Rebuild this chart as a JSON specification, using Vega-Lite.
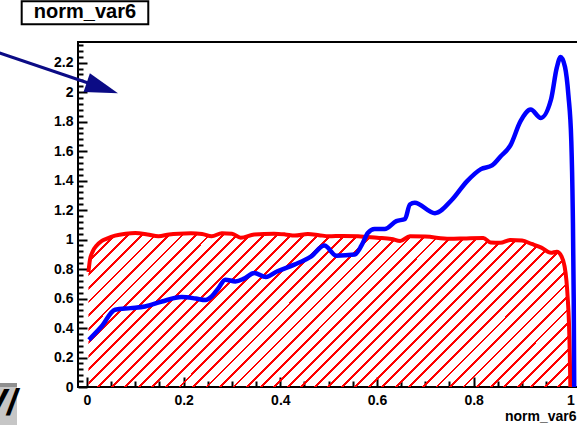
{
  "$schema": "https://vega.github.io/schema/vega-lite/v6.json",
  "width": 502,
  "height": 345,
  "autosize": {"type": "none"},
  "padding": {"left": 78, "top": 42, "right": 0, "bottom": 38},
  "background": "white",
  "config": {
    "view": {"stroke": "black", "strokeWidth": 2},
    "axis": {
      "domainColor": "black",
      "domainWidth": 2,
      "ticks": true,
      "tickColor": "#000000",
      "tickOpacity": 1,
      "tickWidth": 2,
      "labelFont": "Liberation Sans",
      "labelFontSize": 14,
      "labelFontWeight": "bold",
      "labelColor": "black",
      "grid": false,
      "zindex": 2,
      "titleFont": "Liberation Sans",
      "titleFontSize": 14,
      "titleFontWeight": "bold",
      "titleColor": "black"
    }
  },
  "resolve": {"scale": {"x": "independent", "y": "independent"}, "axis": {"x": "independent", "y": "independent"}},
  "datasets": {
    "sig": [
      {"x": 0.003, "y": 0.78}, {"x": 0.006, "y": 0.86}, {"x": 0.012, "y": 0.92}, {"x": 0.02, "y": 0.96},
      {"x": 0.03, "y": 0.99}, {"x": 0.04, "y": 1.005}, {"x": 0.058, "y": 1.027}, {"x": 0.08, "y": 1.04},
      {"x": 0.1, "y": 1.045}, {"x": 0.125, "y": 1.035}, {"x": 0.148, "y": 1.022}, {"x": 0.17, "y": 1.035},
      {"x": 0.19, "y": 1.04}, {"x": 0.215, "y": 1.042}, {"x": 0.238, "y": 1.038}, {"x": 0.258, "y": 1.022},
      {"x": 0.279, "y": 1.043}, {"x": 0.3, "y": 1.04}, {"x": 0.318, "y": 1.012}, {"x": 0.346, "y": 1.034},
      {"x": 0.387, "y": 1.04}, {"x": 0.41, "y": 1.035}, {"x": 0.43, "y": 1.027}, {"x": 0.457, "y": 1.038},
      {"x": 0.48, "y": 1.03}, {"x": 0.5, "y": 1.022}, {"x": 0.53, "y": 1.025}, {"x": 0.561, "y": 1.022},
      {"x": 0.6, "y": 1.012}, {"x": 0.63, "y": 1.004}, {"x": 0.648, "y": 0.99}, {"x": 0.668, "y": 1.022},
      {"x": 0.7, "y": 1.02}, {"x": 0.75, "y": 1.005}, {"x": 0.785, "y": 1.008}, {"x": 0.82, "y": 1.01},
      {"x": 0.835, "y": 0.98}, {"x": 0.855, "y": 0.978}, {"x": 0.876, "y": 0.997}, {"x": 0.9, "y": 0.993},
      {"x": 0.92, "y": 0.97}, {"x": 0.94, "y": 0.945}, {"x": 0.96, "y": 0.91}, {"x": 0.972, "y": 0.918},
      {"x": 0.982, "y": 0.885}, {"x": 0.988, "y": 0.82}, {"x": 0.992, "y": 0.72}, {"x": 0.995, "y": 0.58},
      {"x": 0.997, "y": 0.45}, {"x": 0.999, "y": 0.2}, {"x": 1.0, "y": 0.0}
    ],
    "bkg": [
      {"x": 0.004, "y": 0.32}, {"x": 0.03, "y": 0.41}, {"x": 0.058, "y": 0.524}, {"x": 0.09, "y": 0.535},
      {"x": 0.12, "y": 0.546}, {"x": 0.155, "y": 0.58}, {"x": 0.196, "y": 0.61}, {"x": 0.225, "y": 0.6},
      {"x": 0.245, "y": 0.59}, {"x": 0.258, "y": 0.614}, {"x": 0.272, "y": 0.67}, {"x": 0.286, "y": 0.728},
      {"x": 0.307, "y": 0.716}, {"x": 0.325, "y": 0.735}, {"x": 0.346, "y": 0.773}, {"x": 0.37, "y": 0.746},
      {"x": 0.394, "y": 0.785}, {"x": 0.429, "y": 0.83}, {"x": 0.464, "y": 0.886}, {"x": 0.491, "y": 0.959},
      {"x": 0.516, "y": 0.891}, {"x": 0.554, "y": 0.898}, {"x": 0.568, "y": 0.96}, {"x": 0.581, "y": 1.045},
      {"x": 0.595, "y": 1.072}, {"x": 0.616, "y": 1.072}, {"x": 0.64, "y": 1.125}, {"x": 0.658, "y": 1.14},
      {"x": 0.668, "y": 1.238}, {"x": 0.678, "y": 1.25}, {"x": 0.72, "y": 1.179}, {"x": 0.755, "y": 1.27},
      {"x": 0.786, "y": 1.395}, {"x": 0.815, "y": 1.478}, {"x": 0.838, "y": 1.503}, {"x": 0.856, "y": 1.565},
      {"x": 0.876, "y": 1.639}, {"x": 0.897, "y": 1.803}, {"x": 0.918, "y": 1.882}, {"x": 0.939, "y": 1.825},
      {"x": 0.96, "y": 1.95}, {"x": 0.972, "y": 2.166}, {"x": 0.98, "y": 2.238}, {"x": 0.989, "y": 2.17},
      {"x": 0.996, "y": 1.98}, {"x": 1.002, "y": 1.667}, {"x": 1.005, "y": 1.2}, {"x": 1.007, "y": 0.6},
      {"x": 1.008, "y": 0.0}
    ],
    "arrow": [
      {"x": -0.2, "y": 2.287}, {"x": 0.004, "y": 2.06}
    ],
    "head": [
      {"x": 0.0641, "y": 1.993}
    ],
    "titlebox": [
      {"x": -0.1351, "x2": 0.1268, "y": 2.461, "y2": 2.617, "xc": -0.0042, "yt": 2.505, "label": "norm_var6"}
    ],
    "logo": [
      {"part": "band", "x": -0.19, "x2": -0.1448, "y": 0.027, "y2": 0.0},
      {"part": "body", "x": -0.19, "x2": -0.1448, "y": 0.0, "y2": -0.27}
    ],
    "logotext": [
      {"x": -0.1448, "y": -0.19, "label": "V/"}
    ]
  },
  "layer": [
    {
      "data": {"name": "sig"},
      "mark": {
        "type": "area",
        "interpolate": "monotone",
        "fill": {
          "gradient": "linear",
          "x1": 0, "y1": 0, "x2": 1.1973, "y2": 0.3825,
          "stops": [
            {"offset": 0, "color": "#ff0000"}, {"offset": 0.0045, "color": "#ff0000"}, {"offset": 0.0045, "color": "transparent"}, {"offset": 0.02128, "color": "transparent"},
            {"offset": 0.02128, "color": "#ff0000"}, {"offset": 0.02578, "color": "#ff0000"}, {"offset": 0.02578, "color": "transparent"}, {"offset": 0.04255, "color": "transparent"},
            {"offset": 0.04255, "color": "#ff0000"}, {"offset": 0.04705, "color": "#ff0000"}, {"offset": 0.04705, "color": "transparent"}, {"offset": 0.06383, "color": "transparent"},
            {"offset": 0.06383, "color": "#ff0000"}, {"offset": 0.06833, "color": "#ff0000"}, {"offset": 0.06833, "color": "transparent"}, {"offset": 0.08511, "color": "transparent"},
            {"offset": 0.08511, "color": "#ff0000"}, {"offset": 0.08961, "color": "#ff0000"}, {"offset": 0.08961, "color": "transparent"}, {"offset": 0.10638, "color": "transparent"},
            {"offset": 0.10638, "color": "#ff0000"}, {"offset": 0.11088, "color": "#ff0000"}, {"offset": 0.11088, "color": "transparent"}, {"offset": 0.12766, "color": "transparent"},
            {"offset": 0.12766, "color": "#ff0000"}, {"offset": 0.13216, "color": "#ff0000"}, {"offset": 0.13216, "color": "transparent"}, {"offset": 0.14894, "color": "transparent"},
            {"offset": 0.14894, "color": "#ff0000"}, {"offset": 0.15344, "color": "#ff0000"}, {"offset": 0.15344, "color": "transparent"}, {"offset": 0.17021, "color": "transparent"},
            {"offset": 0.17021, "color": "#ff0000"}, {"offset": 0.17471, "color": "#ff0000"}, {"offset": 0.17471, "color": "transparent"}, {"offset": 0.19149, "color": "transparent"},
            {"offset": 0.19149, "color": "#ff0000"}, {"offset": 0.19599, "color": "#ff0000"}, {"offset": 0.19599, "color": "transparent"}, {"offset": 0.21277, "color": "transparent"},
            {"offset": 0.21277, "color": "#ff0000"}, {"offset": 0.21727, "color": "#ff0000"}, {"offset": 0.21727, "color": "transparent"}, {"offset": 0.23404, "color": "transparent"},
            {"offset": 0.23404, "color": "#ff0000"}, {"offset": 0.23854, "color": "#ff0000"}, {"offset": 0.23854, "color": "transparent"}, {"offset": 0.25532, "color": "transparent"},
            {"offset": 0.25532, "color": "#ff0000"}, {"offset": 0.25982, "color": "#ff0000"}, {"offset": 0.25982, "color": "transparent"}, {"offset": 0.2766, "color": "transparent"},
            {"offset": 0.2766, "color": "#ff0000"}, {"offset": 0.2811, "color": "#ff0000"}, {"offset": 0.2811, "color": "transparent"}, {"offset": 0.29787, "color": "transparent"},
            {"offset": 0.29787, "color": "#ff0000"}, {"offset": 0.30237, "color": "#ff0000"}, {"offset": 0.30237, "color": "transparent"}, {"offset": 0.31915, "color": "transparent"},
            {"offset": 0.31915, "color": "#ff0000"}, {"offset": 0.32365, "color": "#ff0000"}, {"offset": 0.32365, "color": "transparent"}, {"offset": 0.34043, "color": "transparent"},
            {"offset": 0.34043, "color": "#ff0000"}, {"offset": 0.34493, "color": "#ff0000"}, {"offset": 0.34493, "color": "transparent"}, {"offset": 0.3617, "color": "transparent"},
            {"offset": 0.3617, "color": "#ff0000"}, {"offset": 0.3662, "color": "#ff0000"}, {"offset": 0.3662, "color": "transparent"}, {"offset": 0.38298, "color": "transparent"},
            {"offset": 0.38298, "color": "#ff0000"}, {"offset": 0.38748, "color": "#ff0000"}, {"offset": 0.38748, "color": "transparent"}, {"offset": 0.40426, "color": "transparent"},
            {"offset": 0.40426, "color": "#ff0000"}, {"offset": 0.40876, "color": "#ff0000"}, {"offset": 0.40876, "color": "transparent"}, {"offset": 0.42553, "color": "transparent"},
            {"offset": 0.42553, "color": "#ff0000"}, {"offset": 0.43003, "color": "#ff0000"}, {"offset": 0.43003, "color": "transparent"}, {"offset": 0.44681, "color": "transparent"},
            {"offset": 0.44681, "color": "#ff0000"}, {"offset": 0.45131, "color": "#ff0000"}, {"offset": 0.45131, "color": "transparent"}, {"offset": 0.46809, "color": "transparent"},
            {"offset": 0.46809, "color": "#ff0000"}, {"offset": 0.47259, "color": "#ff0000"}, {"offset": 0.47259, "color": "transparent"}, {"offset": 0.48936, "color": "transparent"},
            {"offset": 0.48936, "color": "#ff0000"}, {"offset": 0.49386, "color": "#ff0000"}, {"offset": 0.49386, "color": "transparent"}, {"offset": 0.51064, "color": "transparent"},
            {"offset": 0.51064, "color": "#ff0000"}, {"offset": 0.51514, "color": "#ff0000"}, {"offset": 0.51514, "color": "transparent"}, {"offset": 0.53191, "color": "transparent"},
            {"offset": 0.53191, "color": "#ff0000"}, {"offset": 0.53641, "color": "#ff0000"}, {"offset": 0.53641, "color": "transparent"}, {"offset": 0.55319, "color": "transparent"},
            {"offset": 0.55319, "color": "#ff0000"}, {"offset": 0.55769, "color": "#ff0000"}, {"offset": 0.55769, "color": "transparent"}, {"offset": 0.57447, "color": "transparent"},
            {"offset": 0.57447, "color": "#ff0000"}, {"offset": 0.57897, "color": "#ff0000"}, {"offset": 0.57897, "color": "transparent"}, {"offset": 0.59574, "color": "transparent"},
            {"offset": 0.59574, "color": "#ff0000"}, {"offset": 0.60024, "color": "#ff0000"}, {"offset": 0.60024, "color": "transparent"}, {"offset": 0.61702, "color": "transparent"},
            {"offset": 0.61702, "color": "#ff0000"}, {"offset": 0.62152, "color": "#ff0000"}, {"offset": 0.62152, "color": "transparent"}, {"offset": 0.6383, "color": "transparent"},
            {"offset": 0.6383, "color": "#ff0000"}, {"offset": 0.6428, "color": "#ff0000"}, {"offset": 0.6428, "color": "transparent"}, {"offset": 0.65957, "color": "transparent"},
            {"offset": 0.65957, "color": "#ff0000"}, {"offset": 0.66407, "color": "#ff0000"}, {"offset": 0.66407, "color": "transparent"}, {"offset": 0.68085, "color": "transparent"},
            {"offset": 0.68085, "color": "#ff0000"}, {"offset": 0.68535, "color": "#ff0000"}, {"offset": 0.68535, "color": "transparent"}, {"offset": 0.70213, "color": "transparent"},
            {"offset": 0.70213, "color": "#ff0000"}, {"offset": 0.70663, "color": "#ff0000"}, {"offset": 0.70663, "color": "transparent"}, {"offset": 0.7234, "color": "transparent"},
            {"offset": 0.7234, "color": "#ff0000"}, {"offset": 0.7279, "color": "#ff0000"}, {"offset": 0.7279, "color": "transparent"}, {"offset": 0.74468, "color": "transparent"},
            {"offset": 0.74468, "color": "#ff0000"}, {"offset": 0.74918, "color": "#ff0000"}, {"offset": 0.74918, "color": "transparent"}, {"offset": 0.76596, "color": "transparent"},
            {"offset": 0.76596, "color": "#ff0000"}, {"offset": 0.77046, "color": "#ff0000"}, {"offset": 0.77046, "color": "transparent"}, {"offset": 0.78723, "color": "transparent"},
            {"offset": 0.78723, "color": "#ff0000"}, {"offset": 0.79173, "color": "#ff0000"}, {"offset": 0.79173, "color": "transparent"}, {"offset": 0.80851, "color": "transparent"},
            {"offset": 0.80851, "color": "#ff0000"}, {"offset": 0.81301, "color": "#ff0000"}, {"offset": 0.81301, "color": "transparent"}, {"offset": 0.82979, "color": "transparent"},
            {"offset": 0.82979, "color": "#ff0000"}, {"offset": 0.83429, "color": "#ff0000"}, {"offset": 0.83429, "color": "transparent"}, {"offset": 0.85106, "color": "transparent"},
            {"offset": 0.85106, "color": "#ff0000"}, {"offset": 0.85556, "color": "#ff0000"}, {"offset": 0.85556, "color": "transparent"}, {"offset": 0.87234, "color": "transparent"},
            {"offset": 0.87234, "color": "#ff0000"}, {"offset": 0.87684, "color": "#ff0000"}, {"offset": 0.87684, "color": "transparent"}, {"offset": 0.89362, "color": "transparent"},
            {"offset": 0.89362, "color": "#ff0000"}, {"offset": 0.89812, "color": "#ff0000"}, {"offset": 0.89812, "color": "transparent"}, {"offset": 0.91489, "color": "transparent"},
            {"offset": 0.91489, "color": "#ff0000"}, {"offset": 0.91939, "color": "#ff0000"}, {"offset": 0.91939, "color": "transparent"}, {"offset": 0.93617, "color": "transparent"},
            {"offset": 0.93617, "color": "#ff0000"}, {"offset": 0.94067, "color": "#ff0000"}, {"offset": 0.94067, "color": "transparent"}, {"offset": 0.95745, "color": "transparent"},
            {"offset": 0.95745, "color": "#ff0000"}, {"offset": 0.96195, "color": "#ff0000"}, {"offset": 0.96195, "color": "transparent"}, {"offset": 0.97872, "color": "transparent"},
            {"offset": 0.97872, "color": "#ff0000"}, {"offset": 0.98322, "color": "#ff0000"}, {"offset": 0.98322, "color": "transparent"}, {"offset": 1, "color": "transparent"}
          ]
        }
      },
      "encoding": {
        "x": {
          "field": "x", "type": "quantitative",
          "scale": {"domain": [-0.0186, 1.02], "nice": false, "zero": false},
          "axis": {
            "orient": "bottom",
            "title": "norm_var6",
            "titleAlign": "right",
            "titleBaseline": "alphabetic",
            "titleX": 498,
            "titleY": 43,
            "values": [0, 0.2, 0.4, 0.6, 0.8, 1],
            "format": "~g",
            "domain": false,
            "ticks": true,
            "tickColor": "#000000",
            "tickWidth": 2,
            "offset": -10,
            "tickSize": 10,
            "labelPadding": 6,
            "labelFlush": false,
            "labelOverlap": false
          }
        },
        "y": {
          "field": "y", "type": "quantitative",
          "scale": {"domain": [0, 2.34], "nice": false, "zero": false},
          "axis": {
            "orient": "left",
            "title": null,
            "values": [0, 0.2, 0.4, 0.6, 0.8, 1, 1.2, 1.4, 1.6, 1.8, 2, 2.2],
            "format": "~g",
            "domain": false,
            "ticks": true,
            "tickColor": "#000000",
            "tickWidth": 2,
            "offset": -9,
            "tickSize": 9,
            "labelPadding": 5,
            "labelFlush": false,
            "labelOverlap": false
          }
        }
      }
    },
    {
      "data": {"name": "sig"},
      "mark": {"type": "line", "interpolate": "monotone", "color": "#ff0000", "strokeWidth": 4},
      "encoding": {
        "x": {
          "field": "x", "type": "quantitative",
          "scale": {"domain": [-0.0186, 1.02], "nice": false, "zero": false},
          "axis": {
            "orient": "bottom", "title": null, "labels": false, "domain": false,
            "ticks": true, "tickColor": "#000000", "tickWidth": 2,
            "values": [0.05, 0.1, 0.15, 0.25, 0.3, 0.35, 0.45, 0.5, 0.55, 0.65, 0.7, 0.75, 0.85, 0.9, 0.95],
            "offset": -6, "tickSize": 6
          }
        },
        "y": {
          "field": "y", "type": "quantitative",
          "scale": {"domain": [0, 2.34], "nice": false, "zero": false},
          "axis": {
            "orient": "left", "title": null, "labels": false, "domain": false,
            "ticks": true, "tickColor": "#000000", "tickWidth": 2,
            "values": [0.04, 0.08, 0.12, 0.16, 0.24, 0.28, 0.32, 0.36, 0.44, 0.48, 0.52, 0.56, 0.64, 0.68, 0.72, 0.76, 0.84, 0.88, 0.92, 0.96, 1.04, 1.08, 1.12, 1.16, 1.24, 1.28, 1.32, 1.36, 1.44, 1.48, 1.52, 1.56, 1.64, 1.68, 1.72, 1.76, 1.84, 1.88, 1.92, 1.96, 2.04, 2.08, 2.12, 2.16, 2.24, 2.28, 2.32],
            "offset": -5, "tickSize": 5
          }
        }
      }
    },
    {
      "data": {"name": "bkg"},
      "mark": {"type": "line", "interpolate": "monotone", "color": "#0000ff", "strokeWidth": 4.5},
      "encoding": {
        "x": {"field": "x", "type": "quantitative", "axis": null, "scale": {"domain": [-0.0186, 1.02], "nice": false, "zero": false}},
        "y": {"field": "y", "type": "quantitative", "axis": null, "scale": {"domain": [0, 2.34], "nice": false, "zero": false}}
      }
    },
    {
      "data": {"name": "arrow"},
      "mark": {"type": "line", "color": "#0b0b85", "strokeWidth": 3},
      "encoding": {
        "x": {"field": "x", "type": "quantitative", "axis": null, "scale": {"domain": [-0.0186, 1.02], "nice": false, "zero": false}},
        "y": {"field": "y", "type": "quantitative", "axis": null, "scale": {"domain": [0, 2.34], "nice": false, "zero": false}}
      }
    },
    {
      "data": {"name": "head"},
      "mark": {"type": "point", "shape": "M -2 -0.6 L 0 0 L -2 0.6 Z", "size": 1089, "angle": 18.7, "filled": true, "color": "#0b0b85", "opacity": 1},
      "encoding": {
        "x": {"field": "x", "type": "quantitative", "axis": null, "scale": {"domain": [-0.0186, 1.02], "nice": false, "zero": false}},
        "y": {"field": "y", "type": "quantitative", "axis": null, "scale": {"domain": [0, 2.34], "nice": false, "zero": false}}
      }
    },
    {
      "data": {"name": "titlebox"},
      "mark": {"type": "rect", "fill": null, "stroke": "black", "strokeWidth": 2},
      "encoding": {
        "x": {"field": "x", "type": "quantitative", "axis": null, "scale": {"domain": [-0.0186, 1.02], "nice": false, "zero": false}},
        "x2": {"field": "x2"},
        "y": {"field": "y", "type": "quantitative", "axis": null, "scale": {"domain": [0, 2.34], "nice": false, "zero": false}},
        "y2": {"field": "y2"}
      }
    },
    {
      "data": {"name": "titlebox"},
      "mark": {"type": "text", "font": "Liberation Sans", "fontSize": 20, "fontWeight": "bold", "color": "black", "align": "center", "baseline": "alphabetic"},
      "encoding": {
        "x": {"field": "xc", "type": "quantitative", "axis": null, "scale": {"domain": [-0.0186, 1.02], "nice": false, "zero": false}},
        "y": {"field": "yt", "type": "quantitative", "axis": null, "scale": {"domain": [0, 2.34], "nice": false, "zero": false}},
        "text": {"field": "label"}
      }
    },
    {
      "data": {"name": "logo"},
      "mark": {"type": "rect"},
      "encoding": {
        "x": {"field": "x", "type": "quantitative", "axis": null, "scale": {"domain": [-0.0186, 1.02], "nice": false, "zero": false}},
        "x2": {"field": "x2"},
        "y": {"field": "y", "type": "quantitative", "axis": null, "scale": {"domain": [0, 2.34], "nice": false, "zero": false}},
        "y2": {"field": "y2"},
        "color": {"field": "part", "type": "nominal", "legend": null, "scale": {"domain": ["band", "body"], "range": ["#8f8f8f", "#c6c6c6"]}}
      }
    },
    {
      "data": {"name": "logotext"},
      "mark": {"type": "text", "font": "Liberation Sans", "fontSize": 36, "fontWeight": "bold", "fontStyle": "italic", "color": "black", "align": "right", "baseline": "alphabetic"},
      "encoding": {
        "x": {"field": "x", "type": "quantitative", "axis": null, "scale": {"domain": [-0.0186, 1.02], "nice": false, "zero": false}},
        "y": {"field": "y", "type": "quantitative", "axis": null, "scale": {"domain": [0, 2.34], "nice": false, "zero": false}},
        "text": {"field": "label"}
      }
    }
  ]
}
